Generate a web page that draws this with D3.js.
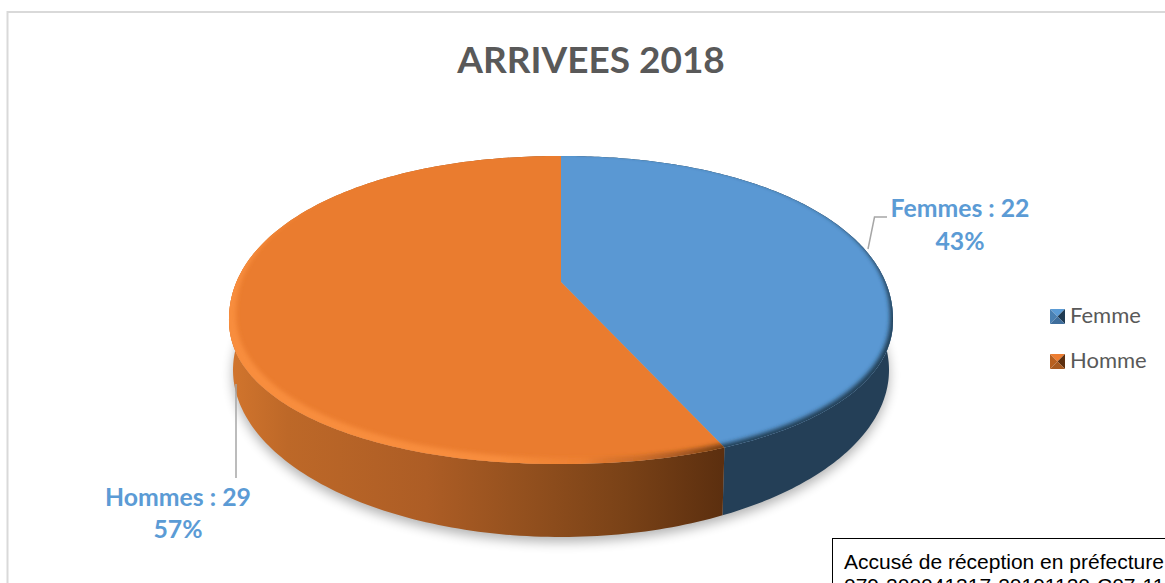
<!DOCTYPE html>
<html lang="fr">
<head>
<meta charset="utf-8">
<title>Arrivées 2018</title>
<script src="https://cdn.jsdelivr.net/npm/d3@7/dist/d3.min.js"></script>
<style>
  html, body { margin: 0; padding: 0; background: #fff; overflow: hidden; }
  svg { display: block; }
</style>
</head>
<body>
<svg id="chart" width="1165" height="583" viewBox="0 0 1165 583"></svg>
<script>
// Chart content
const chartTitle = "ARRIVEES 2018";
const categories = ["Femme", "Homme"];
const labelNames = ["Femmes", "Hommes"];
const values = [22, 29];
const stampLines = ["Accusé de réception en préfecture", "079-200041317-20191120-C07-11"];

// Slice palettes
const topColors = ["#5A98D3", "#EA7C2F"];
const labelColor = "#5B9BD5";
const leaderColor = "#A6A6A6";
const inkColor = "#595959";

const svg = d3.select("#chart");
const defs = svg.append("defs");

// Tilted disc. Angles go through a vanishing term so the pie centre sits above
// the middle of the visible outline; the outline itself is a slightly full oval
// whose upper half is taller than its lower half.
const disc = { cx: 561, apexY: 282, a: 326.5, b: 148.9, k: 0.1818,
               rx: 332, midY: 320, ryUp: 164, ryDown: 144, power: 2.1 };
// Lower edge of the side wall
const base = { rx: 328, midY: 370, ry: 167 };

function offsets(theta) {
  const d = 1 + disc.k * Math.cos(theta);
  const ex = disc.a * Math.sin(theta) / d;
  const ey = -disc.b * Math.cos(theta) / d;
  return { ex, ey, n: Math.min(1, Math.abs(ex) / disc.rx) };
}

function project(theta, scale = 1) {
  const { ex, ey, n } = offsets(theta);
  const reach = Math.pow(1 - Math.pow(n, disc.power), 1 / disc.power);
  // ey is measured from the apex; the oval's extremes are centred 28px under it
  const oy = (ey < 28 ? -disc.ryUp : disc.ryDown) * reach;
  return [disc.cx + ex * scale, disc.midY + oy * scale];
}

function projectBase(theta, drop = 0) {
  const { ex, ey, n } = offsets(theta);
  const reach = Math.sqrt(1 - n * n);
  return [disc.cx + ex * base.rx / disc.rx, base.midY + (ey < 28 ? -1 : 1) * base.ry * reach + drop];
}

const sweep = (a0, a1, n = 200) =>
  d3.range(n + 1).map(i => a0 + (a1 - a0) * i / n);
const line = d3.line();

const pie = d3.pie().sort(null).value(d => d);
const slices = pie(values);
const total = d3.sum(values);
const pct = d3.format(".0%");

const wedge = s => line([[disc.cx, disc.apexY], ...sweep(s.startAngle, s.endAngle).map(t => project(t))]) + "Z";
const wall = s => line([
  ...sweep(s.startAngle, s.endAngle).map(t => project(t)),
  ...sweep(s.endAngle, s.startAngle).map(t => projectBase(t))
]) + "Z";

// Filters
const blur = (id, sd) => defs.append("filter").attr("id", id)
  .attr("x", "-20%").attr("y", "-20%").attr("width", "140%").attr("height", "140%")
  .append("feGaussianBlur").attr("stdDeviation", sd);
blur("soft-shadow", 6);
blur("soft-rim", 2.2);

// Side wall shading
const sideGrad = defs.append("linearGradient").attr("id", "side-homme")
  .attr("gradientUnits", "userSpaceOnUse")
  .attr("x1", 229).attr("x2", 722).attr("y1", 0).attr("y2", 0);
[[0, "#D2752D"], [0.12, "#BD6828"], [0.4, "#AD5D25"], [0.6, "#93501E"], [0.8, "#7A4217"], [1, "#5C2F0F"]]
  .forEach(([o, c]) => sideGrad.append("stop").attr("offset", o).attr("stop-color", c));
const sideFills = ["#243F57", "url(#side-homme)"];

// Orange rim highlight fades out, then darkens, toward the lower right
const rimGrad = defs.append("linearGradient").attr("id", "rim-homme")
  .attr("gradientUnits", "userSpaceOnUse")
  .attr("x1", 229).attr("x2", 722).attr("y1", 0).attr("y2", 0);
[[0, "#F88D3C", 1], [0.55, "#F88D3C", 1], [0.72, "#F08435", 0.6], [0.82, "#A85A20", 0.4], [1, "#6A3812", 0.9]]
  .forEach(([o, c, a]) => rimGrad.append("stop").attr("offset", o).attr("stop-color", c).attr("stop-opacity", a));
const rimFills = ["#243F57", "url(#rim-homme)"];
const rimShift = [[-3, -3], [7, -6]];

// Chart frame, open toward the right and bottom edges
svg.append("path")
  .attr("d", "M7.5 583V12H1165")
  .attr("fill", "none").attr("stroke", "#D9D9D9").attr("stroke-width", 2);

// Title
svg.append("text")
  .attr("x", 591).attr("y", 73)
  .attr("text-anchor", "middle")
  .attr("font-family", "Lato, sans-serif").attr("font-weight", 700).attr("font-size", 37)
  .attr("fill", inkColor)
  .text(chartTitle);

// Ground shadow
svg.append("path")
  .attr("d", line(sweep(0, 2 * Math.PI).map(t => projectBase(t, 5))) + "Z")
  .attr("fill", "#000").attr("opacity", 0.3)
  .attr("filter", "url(#soft-shadow)");

// Side walls
svg.selectAll("path.wall").data(slices).join("path")
  .attr("class", "wall")
  .attr("d", wall)
  .attr("fill", (d, i) => sideFills[i]);

// Top faces
svg.selectAll("path.face").data(slices).join("path")
  .attr("class", "face")
  .attr("d", wedge)
  .attr("fill", (d, i) => topColors[i]);

// Bevelled rim: a blurred crescent kept inside each wedge
slices.forEach((s, i) => {
  const clipId = "clip-" + i;
  defs.append("clipPath").attr("id", clipId).append("path").attr("d", wedge(s));
  const whole = sweep(0, 2 * Math.PI, 360);
  const outer = line(whole.map(t => project(t, 1.03))) + "Z";
  const inner = line(whole.map(t => {
    const [x, y] = project(t);
    return [x + rimShift[i][0], y + rimShift[i][1]];
  })) + "Z";
  svg.append("g").attr("clip-path", `url(#${clipId})`)
    .append("path")
    .attr("d", outer + inner)
    .attr("fill-rule", "evenodd")
    .attr("fill", rimFills[i])
    .attr("filter", "url(#soft-rim)");
});

// Leader lines
const leaders = [
  [[868, 249], [874.5, 217], [887, 217]],
  [[236, 384], [236, 478]]
];
svg.selectAll("path.leader").data(leaders).join("path")
  .attr("class", "leader")
  .attr("d", d => line(d))
  .attr("fill", "none")
  .attr("stroke", leaderColor)
  .attr("stroke-width", 1.5);

// Data labels
const labelAnchors = [[960, 217, 250], [178, 506, 538]];
slices.forEach((s, i) => {
  const [x, y1, y2] = labelAnchors[i];
  const g = svg.append("g")
    .attr("text-anchor", "middle")
    .attr("font-family", "Lato, sans-serif").attr("font-weight", 700).attr("font-size", 24.8)
    .attr("fill", labelColor);
  g.append("text").attr("x", x).attr("y", y1).text(`${labelNames[i]} : ${s.data}`);
  g.append("text").attr("x", x).attr("y", y2).text(pct(s.data / total));
});

// Legend with bevelled keys
const legendY = [309, 354];
const keyFacets = [
  ["#5B9BD5", "#4A80B2", "#1F3A52", "#3F6E9C"],
  ["#ED7D31", "#B8601F", "#5C2F0F", "#A85A20"]
];
categories.forEach((name, i) => {
  const g = svg.append("g").attr("transform", `translate(1050,${legendY[i]})`);
  const size = 15, m = size / 2;
  const corners = [[[0, 0], [size, 0]], [[0, 0], [0, size]], [[size, 0], [size, size]], [[0, size], [size, size]]];
  corners.forEach((c, j) => {
    g.append("path").attr("d", line([...c, [m, m]]) + "Z").attr("fill", keyFacets[i][j]);
  });
  g.append("text")
    .attr("x", 20).attr("y", 14)
    .attr("font-family", "Lato, sans-serif").attr("font-size", 22)
    .attr("fill", inkColor)
    .text(name);
});

// Prefecture receipt stamp, running off the page
svg.append("rect")
  .attr("x", 832.5).attr("y", 538.5).attr("width", 400).attr("height", 80)
  .attr("fill", "#fff").attr("stroke", "#000").attr("stroke-width", 1);
svg.selectAll("text.stamp").data(stampLines).join("text")
  .attr("class", "stamp")
  .attr("x", 844)
  .attr("y", (d, i) => 569 + i * 24)
  .attr("font-family", "'Liberation Sans', Arial, sans-serif")
  .attr("font-size", 21)
  .attr("fill", "#000")
  .text(d => d);
</script>
</body>
</html>
